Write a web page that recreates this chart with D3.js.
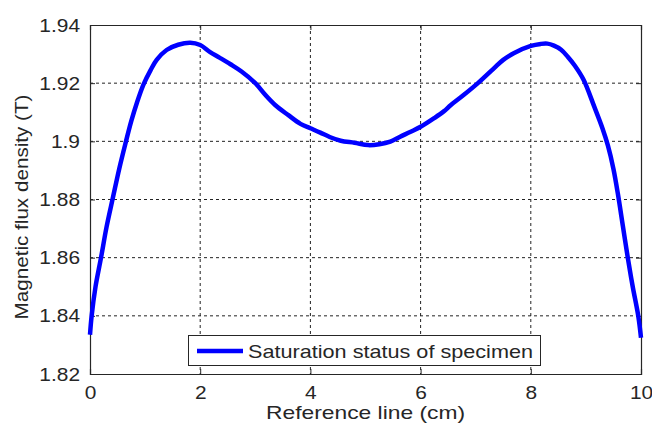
<!DOCTYPE html>
<html>
<head>
<meta charset="utf-8">
<script src="https://cdn.jsdelivr.net/npm/d3@7"></script>
<style>
  html, body { margin: 0; padding: 0; background: #fff; }
  text { font-family: "Liberation Sans", Arial, sans-serif; fill: #262626; }
</style>
</head>
<body>
<svg id="chart" width="652" height="425"></svg>
<script>
const xPositions = [0, 0.03, 0.1, 0.2, 0.3, 0.42, 0.53, 0.64, 0.75, 0.85, 0.97, 1.1, 1.21, 1.39, 1.6, 1.82, 2.0, 2.18, 2.35, 2.55, 2.75, 3.0, 3.18, 3.36, 3.6, 3.82, 4.0, 4.18, 4.35, 4.55, 4.8, 5.05, 5.25, 5.45, 5.62, 5.82, 6.0, 6.24, 6.42, 6.55, 6.78, 7.04, 7.33, 7.5, 7.69, 8.0, 8.18, 8.3, 8.42, 8.55, 8.67, 8.8, 8.96, 9.15, 9.3, 9.4, 9.5, 9.58, 9.67, 9.76, 9.85, 9.95, 10];
const fluxDensity = [1.8335, 1.840, 1.850, 1.860, 1.8705, 1.881, 1.8905, 1.899, 1.907, 1.9132, 1.9195, 1.9245, 1.928, 1.9314, 1.9332, 1.9339, 1.9331, 1.9307, 1.9288, 1.9265, 1.924, 1.920, 1.916, 1.9125, 1.909, 1.906, 1.9045, 1.903, 1.9015, 1.9002, 1.8995, 1.8987, 1.899, 1.8999, 1.9015, 1.9033, 1.905, 1.9079, 1.9103, 1.9125, 1.9159, 1.920, 1.9251, 1.928, 1.9303, 1.9328, 1.9335, 1.9336, 1.9329, 1.9315, 1.9291, 1.926, 1.9211, 1.912, 1.9045, 1.8985, 1.8905, 1.882, 1.871, 1.860, 1.850, 1.840, 1.8325];
const xTicks = [0, 2, 4, 6, 8, 10];
const yTicks = [1.82, 1.84, 1.86, 1.88, 1.9, 1.92, 1.94];
const yTickLabels = ["1.82", "1.84", "1.86", "1.88", "1.9", "1.92", "1.94"];
const seriesName = "Saturation status of specimen";
const xTitle = "Reference line (cm)";
const yTitle = "Magnetic flux density (T)";

const svg = d3.select("#chart");
const pL = 90, pR = 641, pT = 25, pB = 374;
const x = d3.scaleLinear().domain([0, 10]).range([pL, pR]);
const y = d3.scaleLinear().domain([1.82, 1.94]).range([pB, pT]);

function stretch(sel, k) {
  sel.each(function() {
    const len = this.getComputedTextLength();
    d3.select(this).attr("textLength", len * k).attr("lengthAdjust", "spacingAndGlyphs");
  });
}

// grid
const grid = svg.append("g");
grid.selectAll(".vg").data(xTicks.slice(1, -1)).enter().append("line")
  .attr("x1", d => x(d)).attr("x2", d => x(d)).attr("y1", pT).attr("y2", pB)
  .attr("stroke", "#222").attr("stroke-width", 1).attr("stroke-dasharray", "3,3");
grid.selectAll(".hg").data(yTicks.slice(1, -1)).enter().append("line")
  .attr("x1", pL).attr("x2", pR).attr("y1", d => y(d)).attr("y2", d => y(d))
  .attr("stroke", "#222").attr("stroke-width", 1).attr("stroke-dasharray", "3,3");

// axes
const xAxis = svg.append("g").attr("transform", `translate(0,${pB})`)
  .call(d3.axisBottom(x).tickValues(xTicks).tickSize(-5).tickPadding(12).tickFormat(d3.format("d")));
const xAxisTop = svg.append("g").attr("transform", `translate(0,${pT})`)
  .call(d3.axisTop(x).tickValues(xTicks).tickSize(-5).tickFormat(""));
const yAxis = svg.append("g").attr("transform", `translate(${pL},0)`)
  .call(d3.axisLeft(y).tickValues(yTicks).tickSize(-5).tickPadding(10).tickFormat((d, i) => yTickLabels[i]));
const yAxisR = svg.append("g").attr("transform", `translate(${pR},0)`)
  .call(d3.axisRight(y).tickValues(yTicks).tickSize(-5).tickFormat(""));
[xAxis, xAxisTop, yAxis, yAxisR].forEach(a => {
  a.select(".domain").attr("stroke", "#262626").attr("stroke-width", 1.2);
  a.selectAll(".tick line").attr("stroke", "#262626");
});
xAxis.selectAll("text").style("font-size", "19px").attr("fill", "#262626").attr("dy", "0.71em");
yAxis.selectAll("text").style("font-size", "19px").attr("fill", "#262626");
stretch(xAxis.selectAll("text"), 1.1);
stretch(yAxis.selectAll("text"), 1.1);

// curve
const pts = xPositions.map((d, i) => [d, fluxDensity[i]]);
svg.append("path").datum(pts)
  .attr("fill", "none").attr("stroke", "#0000ff").attr("stroke-width", 4.5)
  .attr("stroke-linejoin", "round")
  .attr("d", d3.line().x(d => x(d[0])).y(d => y(d[1])).curve(d3.curveCatmullRom.alpha(0.5)));

// legend
const lg = svg.append("g");
lg.append("rect").attr("x", 188.5).attr("y", 335.5).attr("width", 352).attr("height", 30)
  .attr("fill", "#fff").attr("stroke", "#262626").attr("stroke-width", 1);
lg.append("line").attr("x1", 197).attr("x2", 243).attr("y1", 351).attr("y2", 351)
  .attr("stroke", "#0000ff").attr("stroke-width", 4.5);
const lt = lg.append("text").attr("x", 248).attr("y", 358).style("font-size", "19px").text(seriesName);
lt.attr("textLength", 285).attr("lengthAdjust", "spacingAndGlyphs");

// titles
svg.append("text").attr("x", (pL + pR) / 2).attr("y", 419).attr("text-anchor", "middle")
  .style("font-size", "19px").text(xTitle).attr("textLength", 199).attr("lengthAdjust", "spacingAndGlyphs");
svg.append("text").attr("transform", "translate(28,207) rotate(-90)").attr("text-anchor", "middle")
  .style("font-size", "19px").text(yTitle).attr("textLength", 225).attr("lengthAdjust", "spacingAndGlyphs");
</script>
</body>
</html>
